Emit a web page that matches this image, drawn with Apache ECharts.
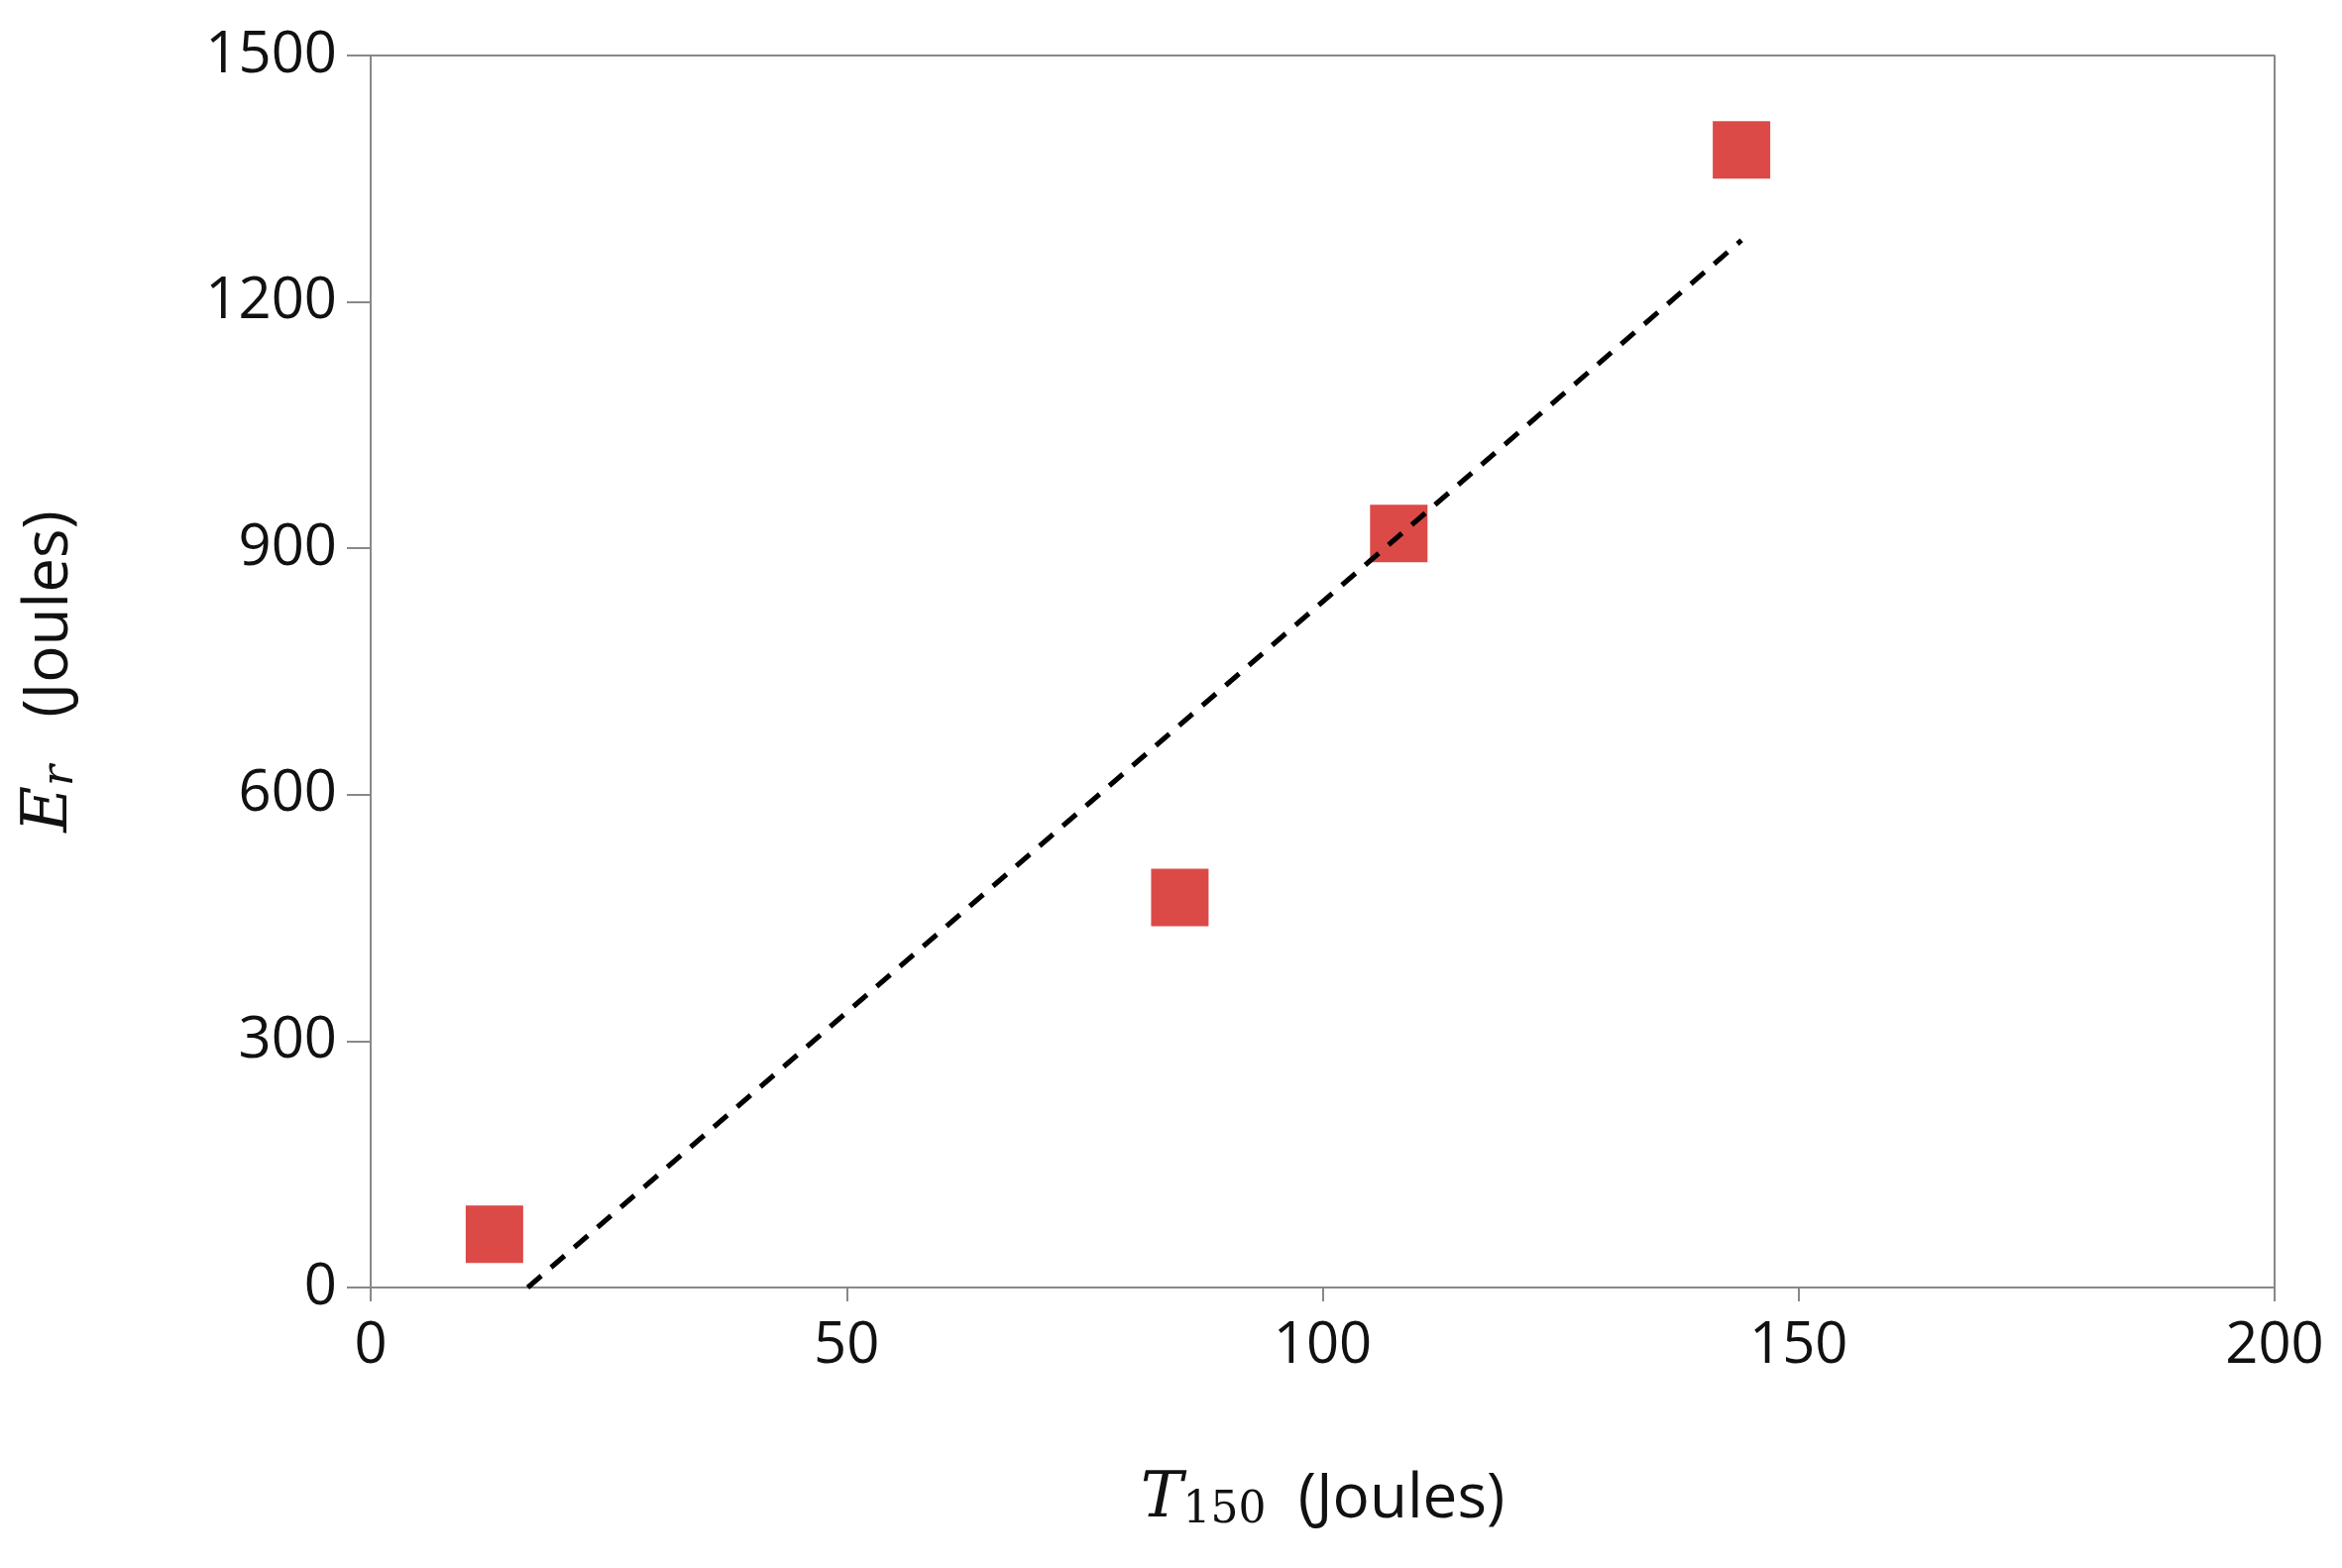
<!DOCTYPE html>
<html>
<head>
<meta charset="utf-8">
<script src="https://cdn.jsdelivr.net/npm/echarts@6/dist/echarts.min.js"></script>
<style>html,body{margin:0;padding:0;background:#fff}#chart{width:2363px;height:1582px}</style>
</head>
<body>
<div id="chart"></div>
<script>
const pointsX = [13, 85, 108, 144]
const pointsY = [65, 475, 918, 1385]
const trendX = [16.5, 144]
const trendY = [0, 1275]

const chart = echarts.init(document.getElementById('chart'))
const font = 'Open Sans, Liberation Sans, sans-serif'
chart.setOption({
    animation: false,
    grid: { left: 374, right: 68, top: 56, bottom: 283 },
    xAxis: {
        type: 'value', min: 0, max: 200, interval: 50,
        axisLine: { show: true, lineStyle: { color: '#888', width: 2 } },
        axisTick: { show: true, length: 14, lineStyle: { color: '#888', width: 2 } },
        axisLabel: { fontSize: 58, color: '#111', fontFamily: font, margin: 30, formatter: v => String(v) },
        splitLine: { show: false },
        name: '{t|T}{s|150}{n|  (Joules)}',
        nameLocation: 'middle', nameGap: 180,
        nameTextStyle: {
            rich: {
                t: { fontSize: 64, fontStyle: 'italic', fontFamily: 'DejaVu Serif, serif', color: '#111' },
                s: { fontSize: 44, fontFamily: 'DejaVu Serif, serif', color: '#111', padding: [24, 0, 0, 0] },
                n: { fontSize: 62, fontFamily: font, color: '#111' }
            }
        }
    },
    yAxis: {
        type: 'value', min: 0, max: 1500, interval: 300,
        axisLine: { show: true, lineStyle: { color: '#888', width: 2 } },
        axisTick: { show: true, length: 24, lineStyle: { color: '#888', width: 2 } },
        axisLabel: { fontSize: 58, color: '#111', fontFamily: font, margin: 34, formatter: v => String(v) },
        splitLine: { show: false },
        name: '{t|E}{s|r}{n|   (Joules)}',
        nameLocation: 'middle', nameGap: 290,
        nameTextStyle: {
            rich: {
                t: { fontSize: 64, fontStyle: 'italic', fontFamily: 'DejaVu Serif, serif', color: '#111' },
                s: { fontSize: 44, fontStyle: 'italic', fontFamily: 'DejaVu Serif, serif', color: '#111', padding: [24, 0, 0, 0] },
                n: { fontSize: 62, fontFamily: font, color: '#111' }
            }
        }
    },
    series: [
        {
            type: 'line',
            data: trendX.map((x, i) => [x, trendY[i]]),
            symbol: 'none',
            lineStyle: { color: '#000', width: 5, type: [18, 13] },
            z: 3
        },
        {
            type: 'scatter',
            data: pointsX.map((x, i) => [x, pointsY[i]]),
            symbol: 'rect',
            symbolSize: 58,
            itemStyle: { color: '#dc4a47', opacity: 1 },
            z: 2
        },
        {
            // right and top border of the plot area
            type: 'line',
            data: [[0, 1500], [200, 1500], [200, 0]],
            symbol: 'none',
            lineStyle: { color: '#888', width: 2 },
            silent: true
        }
    ]
})
</script>
</body>
</html>
